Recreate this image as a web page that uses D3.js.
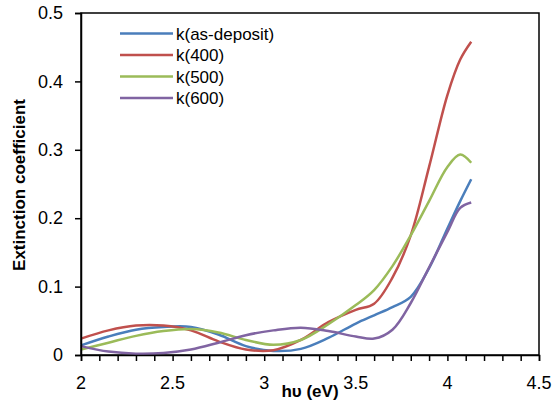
<!DOCTYPE html>
<html>
<head>
<meta charset="utf-8">
<script src="https://cdn.jsdelivr.net/npm/d3@7"></script>
<style>
  body { margin: 0; background: #fff; }
  text { font-family: "Liberation Sans", Arial, sans-serif; fill: #000; }
</style>
</head>
<body>
<script>
// SVG size
const w = 552;
const h = 407;

// Data
const energy = [2.0, 2.15, 2.3, 2.45, 2.6, 2.75, 2.9, 3.05, 3.2, 3.35, 3.5, 3.6, 3.7, 3.8, 3.9, 4.0, 4.07, 4.13];
const kAsDeposit = [0.014, 0.027, 0.037, 0.041, 0.041, 0.030, 0.013, 0.006, 0.009, 0.025, 0.046, 0.058, 0.070, 0.085, 0.127, 0.185, 0.225, 0.257];
const k400 = [0.024, 0.036, 0.043, 0.043, 0.036, 0.020, 0.008, 0.007, 0.022, 0.048, 0.066, 0.075, 0.113, 0.175, 0.275, 0.380, 0.432, 0.458];
const k500 = [0.008, 0.018, 0.028, 0.035, 0.038, 0.033, 0.022, 0.015, 0.022, 0.045, 0.073, 0.095, 0.130, 0.175, 0.225, 0.275, 0.293, 0.281];
const k600 = [0.013, 0.005, 0.002, 0.003, 0.008, 0.018, 0.029, 0.036, 0.040, 0.035, 0.027, 0.024, 0.037, 0.076, 0.128, 0.180, 0.215, 0.223];

const seriesNames = ["k(as-deposit)", "k(400)", "k(500)", "k(600)"];
const seriesValues = [kAsDeposit, k400, k500, k600];
const colors = ["#4a7ebb", "#c0504d", "#9bbb59", "#8064a2"];

const xTicks = [2, 2.5, 3, 3.5, 4, 4.5];
const yTicks = [0, 0.1, 0.2, 0.3, 0.4, 0.5];

// Plot area
const plotLeft = 81, plotRight = 539, plotTop = 13, plotBottom = 355;

const xScale = d3.scaleLinear().domain([2, 4.5]).range([plotLeft, plotRight]);
const yScale = d3.scaleLinear().domain([0, 0.5]).range([plotBottom, plotTop]);

const svg = d3.select("body")
    .append("svg")
    .attr("width", w)
    .attr("height", h);

// Frame
svg.append("rect")
    .attr("x", plotLeft)
    .attr("y", plotTop)
    .attr("width", plotRight - plotLeft)
    .attr("height", plotBottom - plotTop)
    .attr("fill", "none")
    .attr("stroke", "#000")
    .attr("stroke-width", 1.5);

// Lines
const line = d3.line()
    .x(d => xScale(d[0]))
    .y(d => yScale(d[1]))
    .curve(d3.curveCatmullRom.alpha(0.5));

seriesValues.forEach((vals, i) => {
    svg.append("path")
        .datum(energy.map((e, j) => [e, vals[j]]))
        .attr("fill", "none")
        .attr("stroke", colors[i])
        .attr("stroke-width", 2.5)
        .attr("d", line);
});

// Bottom axis: minor ticks every 0.1
const minorTicks = d3.range(20, 46).map(v => v / 10);
const bottomAxis = d3.axisBottom(xScale)
    .tickValues(minorTicks)
    .tickSize(6)
    .tickFormat("");
svg.append("g")
    .attr("transform", `translate(0, ${plotBottom})`)
    .call(bottomAxis)
    .call(g => g.select(".domain").attr("stroke-width", 1.5))
    .call(g => g.selectAll(".tick line").attr("stroke-width", 1.5));

svg.append("g")
    .selectAll("text")
    .data(xTicks)
    .join("text")
    .attr("x", d => xScale(d))
    .attr("y", 389)
    .attr("text-anchor", "middle")
    .style("font-size", "18px")
    .text(d => d);

// Left axis
const leftAxis = d3.axisLeft(yScale)
    .tickValues(yTicks)
    .tickSize(6)
    .tickPadding(12)
    .tickFormat(d => d);
svg.append("g")
    .attr("transform", `translate(${plotLeft}, 0)`)
    .call(leftAxis)
    .call(g => g.select(".domain").attr("stroke-width", 1.5))
    .call(g => g.selectAll(".tick line").attr("stroke-width", 1.5))
    .call(g => g.selectAll(".tick text")
        .style("font-size", "18px")
        .style("font-family", "'Liberation Sans', Arial, sans-serif")
        .attr("fill", "#000"));

// Axis labels
svg.append("text")
    .attr("x", 310)
    .attr("y", 397)
    .attr("text-anchor", "middle")
    .style("font-size", "17px")
    .style("font-weight", "bold")
    .text("hυ (eV)");

svg.append("text")
    .attr("transform", "rotate(-90)")
    .attr("x", -185)
    .attr("y", 25)
    .attr("text-anchor", "middle")
    .style("font-size", "17px")
    .style("font-weight", "bold")
    .text("Extinction coefficient");

// Legend
const legend = svg.append("g");
seriesNames.forEach((name, i) => {
    const y = 33.5 + i * 21.5;
    legend.append("line")
        .attr("x1", 120)
        .attr("x2", 173)
        .attr("y1", y)
        .attr("y2", y)
        .attr("stroke", colors[i])
        .attr("stroke-width", 2.5);
    legend.append("text")
        .attr("x", 176)
        .attr("y", y + 6)
        .style("font-size", "17px")
        .text(name);
});
</script>
</body>
</html>
